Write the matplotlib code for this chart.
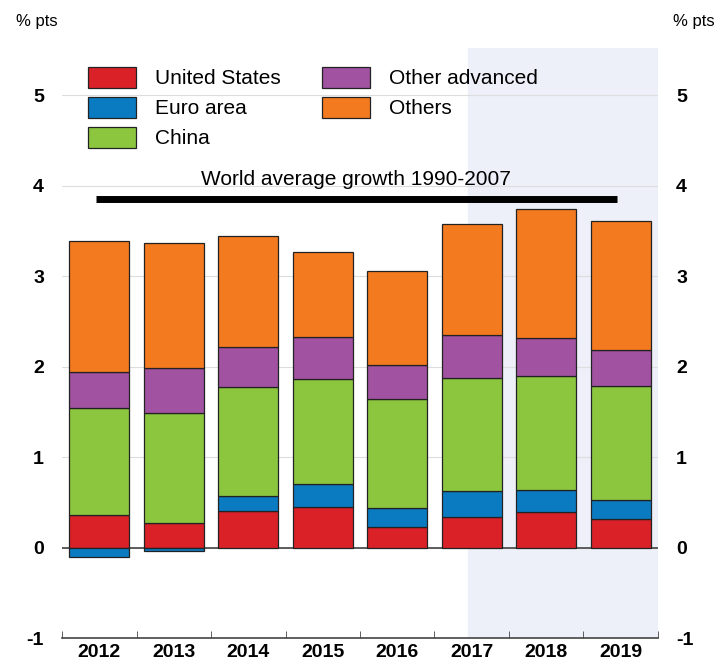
import numpy as np
import matplotlib.pyplot as plt

years = ["2012", "2013", "2014", "2015", "2016", "2017", "2018", "2019"]
united_states = [0.36, 0.27, 0.40, 0.45, 0.23, 0.34, 0.39, 0.31]
euro_area = [-0.11, -0.04, 0.17, 0.25, 0.21, 0.29, 0.25, 0.22]
china = [1.18, 1.22, 1.20, 1.16, 1.20, 1.24, 1.26, 1.25]
other_advanced = [0.40, 0.49, 0.45, 0.47, 0.38, 0.48, 0.42, 0.40]
others = [1.45, 1.39, 1.22, 0.93, 1.04, 1.23, 1.42, 1.43]
world_avg_1990_2007 = 3.85

series = [
    ("United States", united_states, "#da2128"),
    ("Euro area", euro_area, "#0a7bc1"),
    ("China", china, "#8cc63f"),
    ("Other advanced", other_advanced, "#a152a0"),
    ("Others", others, "#f47a20"),
]

plt.rcParams['font.family'] = ['Liberation Sans', 'DejaVu Sans']
plt.rcParams['axes.unicode_minus'] = False

fig = plt.figure(figsize=(7.18, 6.66), dpi=100)
ax = fig.add_axes([0.0864, 0.042, 0.83, 0.886])

x = np.arange(len(years))
ax.axvspan(4.95, 7.5, color="#edf0f8", zorder=0)

pos = np.zeros(len(years))
neg = np.zeros(len(years))
for name, vals, col in series:
    vals = np.array(vals)
    bottom = np.where(vals >= 0, pos, neg)
    ax.bar(x, vals, 0.8, bottom=bottom, color=col, edgecolor="#222222",
           linewidth=0.9, label=name, zorder=3)
    pos = pos + np.clip(vals, 0, None)
    neg = neg + np.clip(vals, None, 0)

# world average line
ax.plot([-0.05, 6.95], [world_avg_1990_2007] * 2, color="black", lw=5,
        solid_capstyle="butt", zorder=4)
ax.text(3.45, world_avg_1990_2007 + 0.11, "World average growth 1990-2007",
        ha="center", va="bottom", fontsize=15)

ax.axhline(0, color="#444444", lw=1.2, zorder=2)
ax.set_xlim(-0.5, 7.5)
ax.set_ylim(-1, 5.52)
ax.set_yticks(range(-1, 6))
ax.grid(axis="y", color="#dddddd", lw=0.8, zorder=1)
ax.set_axisbelow(True)

for s in ["top", "left", "right"]:
    ax.spines[s].set_visible(False)
ax.spines["bottom"].set_color("#444444")
ax.spines["bottom"].set_linewidth(1.2)

ax.set_xticks(x)
ax.set_xticklabels(years, fontsize=14, fontweight="bold")
ax.tick_params(axis="x", length=0, pad=4)
ax.set_xticks(np.arange(-0.5, 8, 1), minor=True)
ax.tick_params(axis="x", which="minor", direction="in", length=5, color="#444444")

ax.tick_params(axis="y", length=0, labelsize=14, pad=13, labelright=True)
for lab in ax.get_yticklabels():
    lab.set_fontweight("bold")

fig.text(0.022, 0.967, "% pts", fontsize=12, ha="left", va="center")
fig.text(0.995, 0.967, "% pts", fontsize=12, ha="right", va="center")

leg = ax.legend(loc="upper left", bbox_to_anchor=(0.012, 1.0), ncol=2, frameon=False,
                fontsize=15, handlelength=2.3, handleheight=1.2,
                columnspacing=2.0, labelspacing=0.4, handletextpad=0.9)

fig.savefig("out.png", dpi=100)
